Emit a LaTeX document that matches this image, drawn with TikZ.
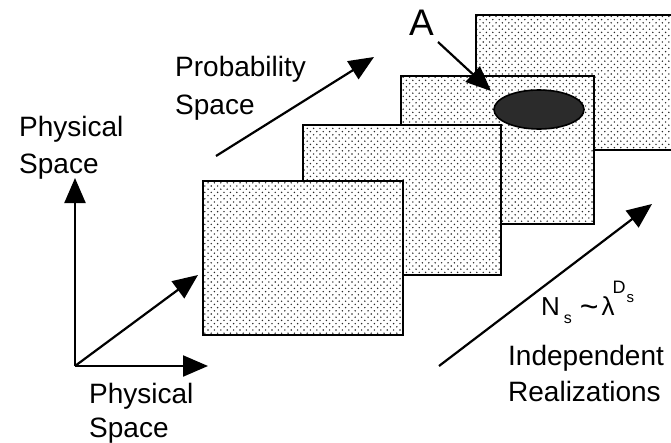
\documentclass[tikz,border=0pt]{standalone}
\usepackage{fontspec}
\setmainfont{Liberation Sans}
\usetikzlibrary{arrows.meta,patterns,shapes.geometric}
\pgfdeclarepatternformonly{mydots}{\pgfqpoint{-1pt}{-1pt}}{\pgfqpoint{5.4pt}{5.4pt}}{\pgfqpoint{6.4pt}{6.4pt}}{%
  \pgfpathcircle{\pgfqpoint{0pt}{0pt}}{0.8pt}%
  \pgfpathcircle{\pgfqpoint{3.2pt}{3.2pt}}{0.8pt}%
  \pgfusepath{fill}}
\tikzset{
  sheet/.style={draw=black, line width=2pt, preaction={fill=white}, pattern=mydots, pattern color=black!85},
  bigarrow/.style={line width=2.2pt, -{Triangle[length=25pt,width=21pt]}},
  lbl/.style={anchor=base west, inner sep=0pt, font=\fontsize{28}{34}\selectfont},
}
\begin{document}
\begin{tikzpicture}[x=1pt,y=-1pt]
\useasboundingbox (0,0) rectangle (671,442);
% sheets, back to front
\draw[sheet] (476,15) rectangle (690,150);
\draw[sheet] (401,76) rectangle (594,224);
\node[ellipse, draw=black, line width=1.6pt, fill=black!83, minimum width=90pt, minimum height=39pt, inner sep=0pt] (ell) at (539,109.5) {};
\draw[sheet] (303,125) rectangle (501,275);
\draw[sheet] (203,181) rectangle (403,335);
% axes
\coordinate (o) at (75,366);
\coordinate (up) at (75,178);
\coordinate (right) at (208,366);
\coordinate (diag) at (198,275);
\draw[bigarrow] (o) -- (up);
\draw[bigarrow] (o) -- (right);
\draw[bigarrow] (o) -- (diag);
% probability arrow
\coordinate (p0) at (216,156);
\coordinate (p1) at (374,57);
\draw[bigarrow] (p0) -- (p1);
% realizations arrow
\coordinate (r0) at (439,366);
\coordinate (r1) at (652,204);
\draw[bigarrow] (r0) -- (r1);
% A arrow
\node[anchor=base west, inner sep=0pt, font=\fontsize{37}{37}\selectfont] (A) at (409,35) {A};
\coordinate (a0) at (438,42);
\coordinate (a1) at (491,91);
\draw[bigarrow] (a0) -- (a1);
% labels
\node[lbl] (ps1) at (19,136) {Physical};
\node[lbl] (ps2) at (19,173) {Space};
\node[lbl] (pr1) at (175,76) {Probability};
\node[lbl] (pr2) at (175,114) {Space};
\node[lbl] (pb1) at (89,403) {Physical};
\node[lbl] (pb2) at (89,437) {Space};
\node[lbl] (ir1) at (508,365) {Independent};
\node[lbl] (ir2) at (508,401) {Realizations};
\node[anchor=base west, inner sep=0pt, font=\fontsize{26}{26}\selectfont] (ns) at (541,315)
  {N\kern4pt\raisebox{-8pt}{\fontsize{16}{16}\selectfont s}\kern8pt{\fontsize{32}{32}\selectfont\raisebox{-2pt}{\textasciitilde}}\kern3pt λ\kern-2pt\raisebox{22pt}{\fontsize{18}{18}\selectfont D\kern1pt\raisebox{-9pt}{\fontsize{15}{15}\selectfont s}}};
\end{tikzpicture}
\end{document}
